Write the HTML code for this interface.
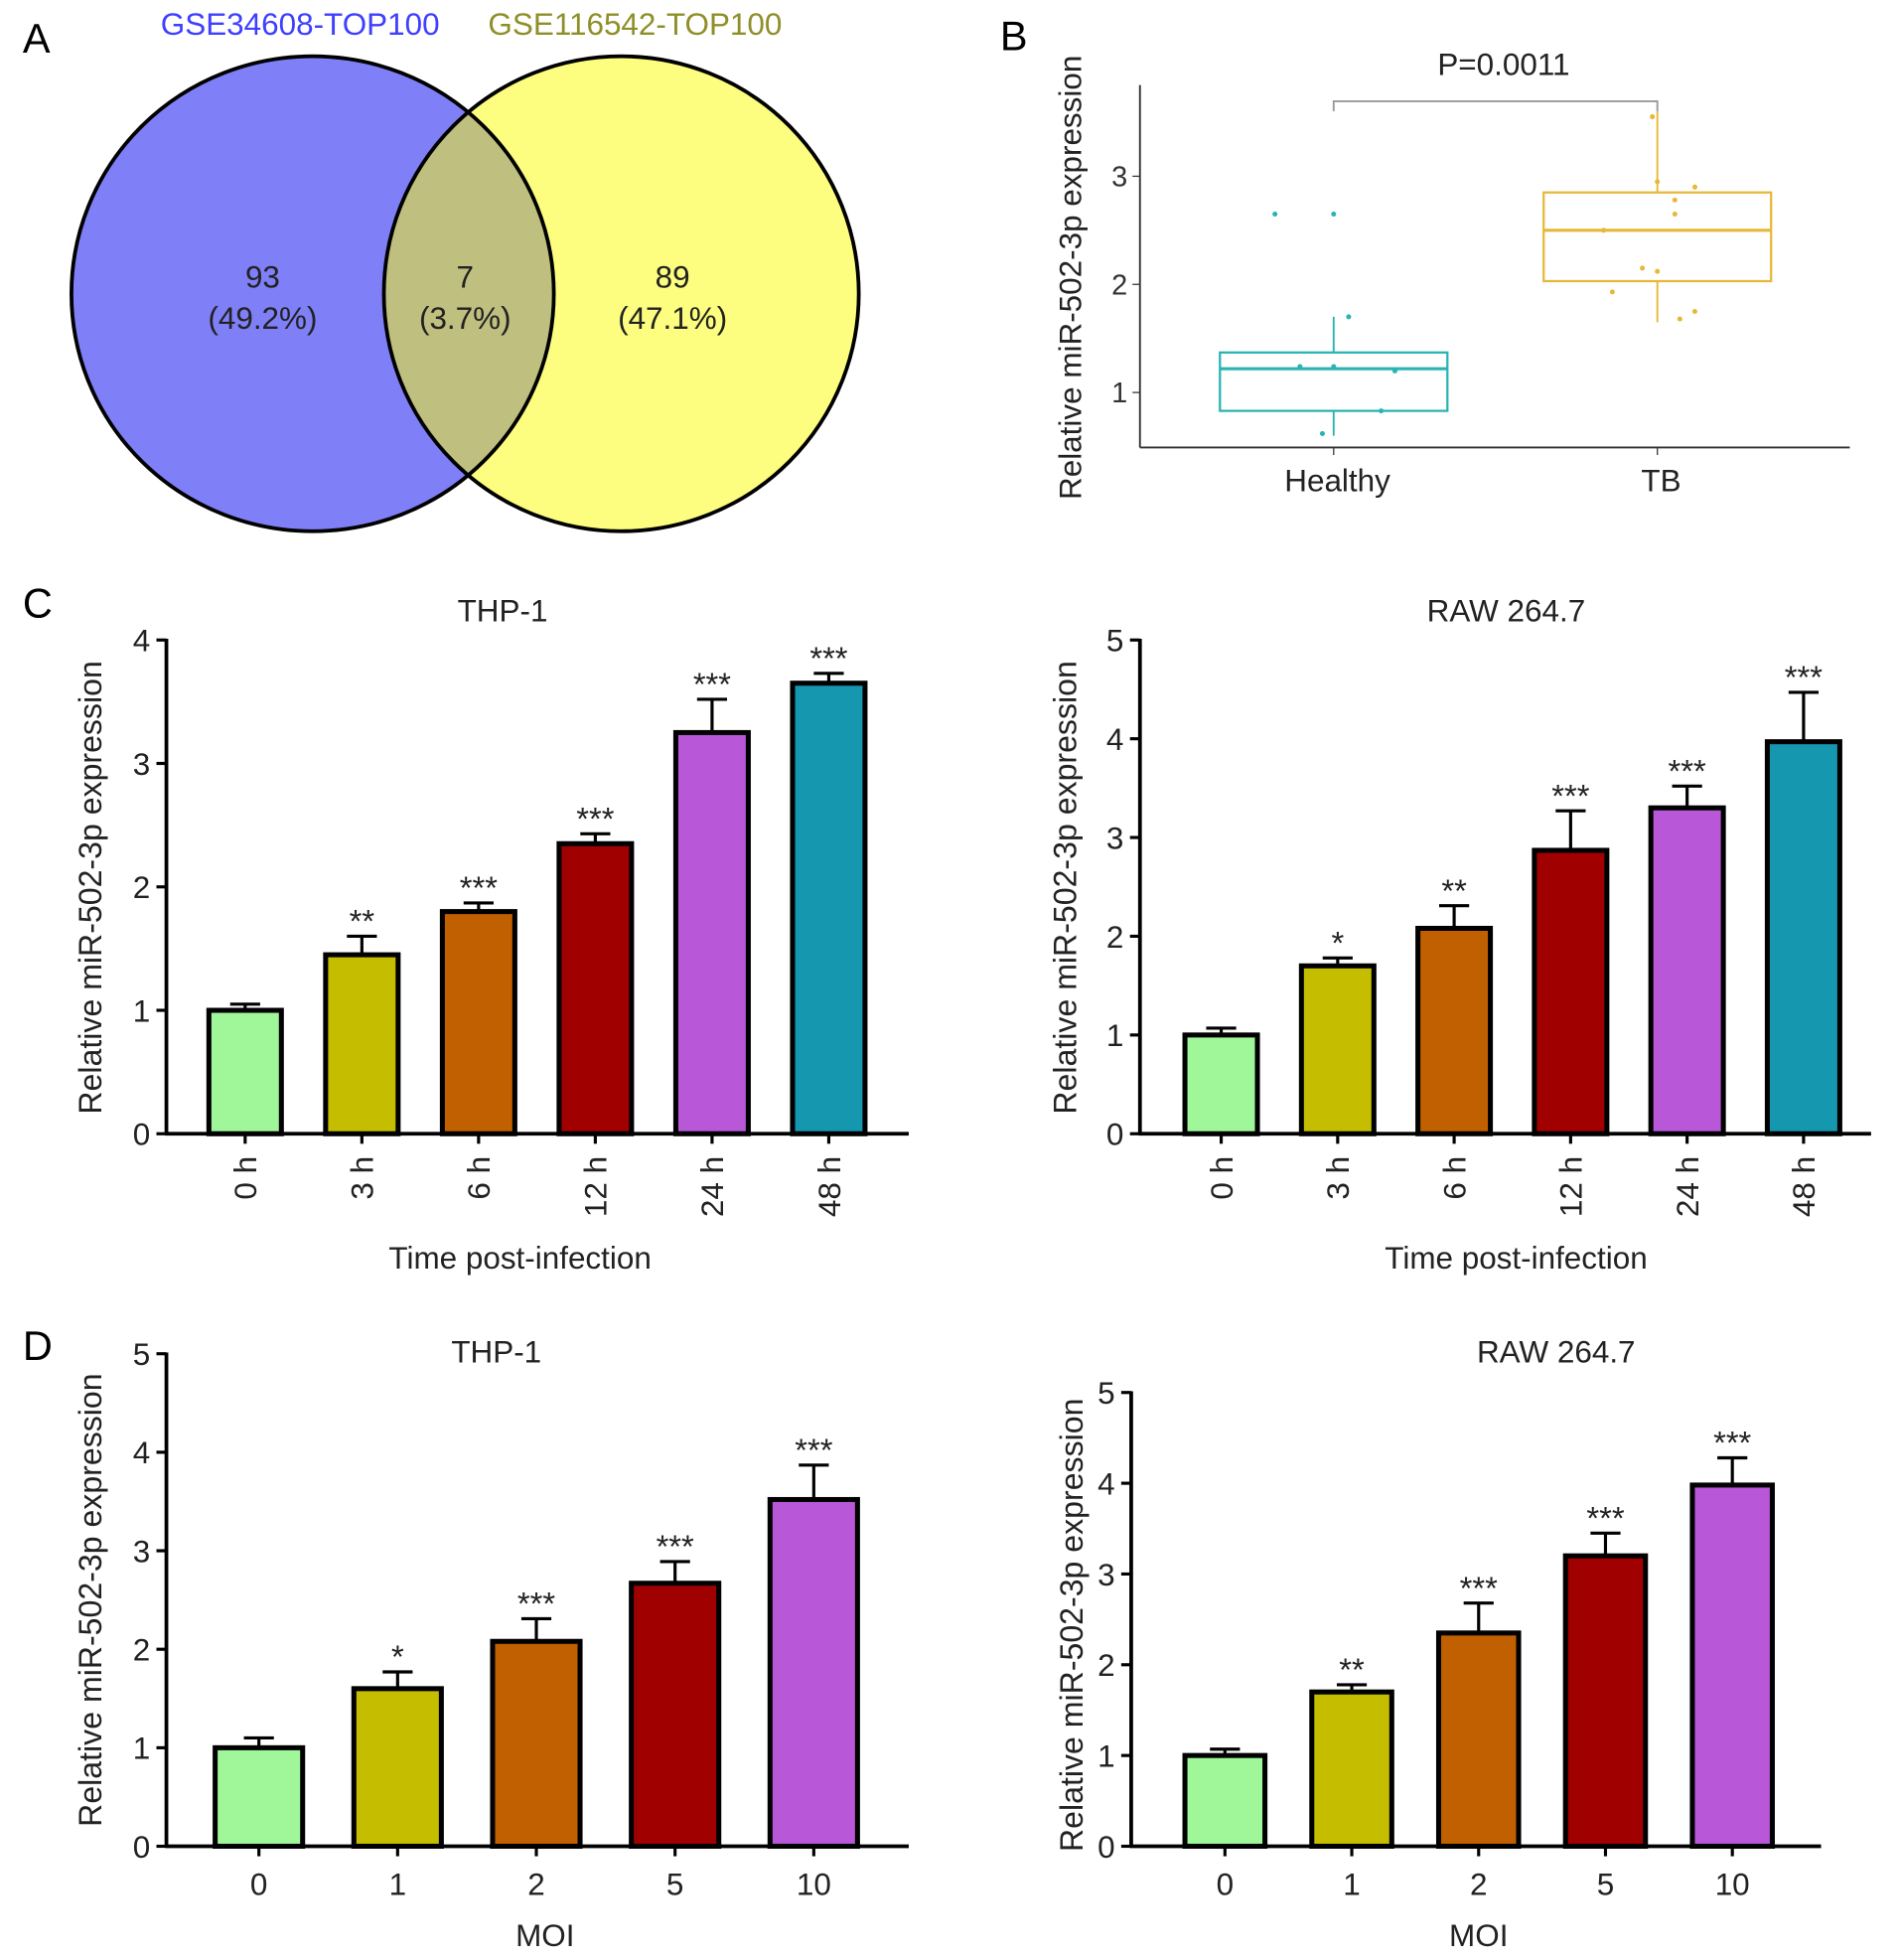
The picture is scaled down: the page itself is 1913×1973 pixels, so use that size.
<!DOCTYPE html>
<html><head><meta charset="utf-8"><style>
html,body{margin:0;padding:0;background:#fff}
svg{display:block;font-family:"Liberation Sans",sans-serif}
</style></head><body>
<svg id="fig" width="1913" height="1973" viewBox="0 0 1520 1568" xmlns="http://www.w3.org/2000/svg">
<g>
<text x="18" y="42" font-size="33">A</text>
<text x="240" y="28" font-size="25" fill="#3f3fff" text-anchor="middle">GSE34608-TOP100</text>
<text x="508" y="28" font-size="25" fill="#8f8f2a" text-anchor="middle">GSE116542-TOP100</text>
<ellipse cx="250" cy="235" rx="193" ry="190" fill="#7f7ff8"/>
<ellipse cx="497" cy="235" rx="190" ry="190" fill="#fdfd7f"/>
<clipPath id="c1"><ellipse cx="250" cy="235" rx="193" ry="190"/></clipPath>
<ellipse cx="497" cy="235" rx="190" ry="190" fill="#bfbf80" clip-path="url(#c1)"/>
<ellipse cx="250" cy="235" rx="193" ry="190" fill="none" stroke="#000" stroke-width="3"/>
<ellipse cx="497" cy="235" rx="190" ry="190" fill="none" stroke="#000" stroke-width="3"/>
<g font-size="25" text-anchor="middle" fill="#222">
<text x="210" y="230">93</text><text x="210" y="263">(49.2%)</text>
<text x="372" y="230">7</text><text x="372" y="263">(3.7%)</text>
<text x="538" y="230">89</text><text x="538" y="263">(47.1%)</text>
</g>
</g>
<g id="pb"></g>
<g id="cl"></g>
<g id="cr"></g>
<g id="dl"></g>
<g id="dr"></g>
</svg>
<script>
const NS="http://www.w3.org/2000/svg";
// Panel B data
const bGroups=["Healthy","TB"];
const bQ1=[0.83,2.03], bMed=[1.22,2.5], bQ3=[1.37,2.85], bMin=[0.6,1.65], bMax=[1.7,3.6];
const bTicks=[1,2,3];
const bHealthyPts=[2.65,2.65,1.7,1.24,1.24,1.2,0.83,0.62];
const bHealthyJit=[-47,0,12,-27,0,49,38,-9];
const bTbPts=[3.55,2.95,2.9,2.78,2.65,2.5,2.15,2.12,1.93,1.75,1.68];
const bTbJit=[-4,0,30,14,14,-43,-12,0,-36,30,18];
// Panel C/D data
const colors=["#a0f79a","#c4bd00","#c06000","#a00000","#b857d8","#1597b0"];
const cCats=["0 h","3 h","6 h","12 h","24 h","48 h"];
const cThpVals=[1.0,1.45,1.8,2.35,3.25,3.65];
const cThpErr=[0.05,0.15,0.07,0.08,0.27,0.08];
const cThpSig=["","**","***","***","***","***"];
const cRawVals=[1.0,1.7,2.08,2.87,3.3,3.97];
const cRawErr=[0.07,0.08,0.23,0.4,0.22,0.5];
const cRawSig=["","*","**","***","***","***"];
const dCats=["0","1","2","5","10"];
const dThpVals=[1.0,1.6,2.08,2.67,3.52];
const dThpErr=[0.1,0.17,0.23,0.22,0.35];
const dThpSig=["","*","***","***","***"];
const dRawVals=[1.0,1.7,2.35,3.2,3.98];
const dRawErr=[0.07,0.08,0.33,0.25,0.3];
const dRawSig=["","**","***","***","***"];

function mk(parent,tag,attrs,text){const e=document.createElementNS(NS,tag);for(const k in attrs)e.setAttribute(k,attrs[k]);if(text!==undefined)e.textContent=text;parent.appendChild(e);return e;}

// Panel B
(function(){
 const g=document.getElementById('pb');
 const y=v=>314-(v-1)*86.5;
 const xs=[1067,1326], cols=["#2ab3b3","#e6b83a"];
 let t=mk(g,'text',{x:800,y:40,'font-size':33});t.textContent="B";
 
 
 mk(g,'line',{x1:912,y1:68,x2:912,y2:358,stroke:'#333','stroke-width':1.5});
 mk(g,'line',{x1:912,y1:358,x2:1480,y2:358,stroke:'#333','stroke-width':1.5});
 bTicks.forEach(v=>{mk(g,'line',{x1:906,y1:y(v),x2:912,y2:y(v),stroke:'#333'});
  const tt=mk(g,'text',{x:902,y:y(v)+8,'font-size':23,'text-anchor':'end',fill:'#333'},v);
  
  });
 const yt=mk(g,'text',{transform:'translate(865,222) rotate(-90)','font-size':25,'text-anchor':'middle',fill:'#222'},"Relative miR-502-3p expression");
 
 
 bGroups.forEach((n,i)=>{const x=xs[i],c=cols[i];
  mk(g,'line',{x1:x,y1:358,x2:x,y2:364,stroke:'#333'});
  const l=mk(g,'text',{x:x+3,y:393,'font-size':25,'text-anchor':'middle',fill:'#222'},n);
  
  
  mk(g,'line',{x1:x,y1:y(bMin[i]),x2:x,y2:y(bMax[i]),stroke:c,'stroke-width':1.5});
  const b=mk(g,'rect',{x:x-91,y:y(bQ3[i]),width:182,height:y(bQ1[i])-y(bQ3[i]),fill:'#fff',stroke:c,'stroke-width':1.8});
  
  
  mk(g,'line',{x1:x-91,y1:y(bMed[i]),x2:x+91,y2:y(bMed[i]),stroke:c,'stroke-width':2.5});
 });
 [[bHealthyPts,bHealthyJit,0],[bTbPts,bTbJit,1]].forEach(([p,j,i])=>p.forEach((v,k)=>{
  const d=mk(g,'circle',{cx:xs[i]+j[k],cy:y(v),r:2,fill:cols[i]});
  
  }));
 mk(g,'path',{d:`M${xs[0]} 89V81H${xs[1]}V89`,fill:'none',stroke:'#999','stroke-width':1.5});
 const p=mk(g,'text',{x:1203,y:60,'font-size':25,'text-anchor':'middle',fill:'#222'},"P=0.0011");
 
 
})();

function barChart(id,o){
 const g=document.getElementById(id);
 const y=v=>o.y0-v*o.unit;
 if(o.label){const L=mk(g,'text',{x:o.lx,y:o.ly,'font-size':33},o.label);
  
  }
 const T=mk(g,'text',{x:o.tx,y:o.ty,'font-size':25,'text-anchor':'middle',fill:'#222'},o.title);
 
 
 mk(g,'line',{x1:o.ax,y1:y(o.ymax)-1,x2:o.ax,y2:o.y0,stroke:'#000','stroke-width':3});
 mk(g,'line',{x1:o.ax-1,y1:o.y0,x2:o.axEnd,y2:o.y0,stroke:'#000','stroke-width':3});
 for(let v=0;v<=o.ymax;v++){mk(g,'line',{x1:o.ax-8,y1:y(v),x2:o.ax,y2:y(v),stroke:'#000','stroke-width':2.5});
  const tl=mk(g,'text',{x:o.ax-13,y:y(v)+9,'font-size':25,'text-anchor':'end',fill:'#222'},v);
  
  }
 const yt=mk(g,'text',{transform:`translate(${o.ytx},${o.yty}) rotate(-90)`,'font-size':25.5,'text-anchor':'middle',fill:'#222'},"Relative miR-502-3p expression");
 
 
 const xt=mk(g,'text',{x:o.xtx,y:o.xty,'font-size':25,'text-anchor':'middle',fill:'#222'},o.xtitle);
 
 
 o.cats.forEach((c,i)=>{const cx=o.x0+i*o.step,v=o.vals[i],e=o.err[i],hw=o.bw/2;
  mk(g,'line',{x1:cx,y1:o.y0,x2:cx,y2:o.y0+8,stroke:'#000','stroke-width':2.5});
  let lab;
  if(o.rot) lab=mk(g,'text',{transform:`translate(${cx+9},${o.y0+18}) rotate(-90)`,'font-size':25,'text-anchor':'end',fill:'#222'},c);
  else lab=mk(g,'text',{x:cx,y:o.y0+39,'font-size':25,'text-anchor':'middle',fill:'#222'},c);
  
  
  mk(g,'line',{x1:cx,y1:y(v),x2:cx,y2:y(v+e),stroke:'#000','stroke-width':2.5});
  mk(g,'line',{x1:cx-12,y1:y(v+e),x2:cx+12,y2:y(v+e),stroke:'#000','stroke-width':2.5});
  const r=mk(g,'rect',{x:cx-hw,y:y(v),width:o.bw,height:o.y0-y(v),fill:colors[i],stroke:'#000','stroke-width':4});
  
  
  if(o.sig[i]){const s=mk(g,'text',{x:cx,y:y(v+e)-3,'font-size':26,'text-anchor':'middle',fill:'#222'},o.sig[i]);
   
   }
 });
}
barChart('cl',{label:'C',lx:18,ly:494,title:'THP-1',tx:402,ty:497,ax:133,axEnd:727,y0:907,unit:98.75,ymax:4,x0:196,step:93.4,bw:58,cats:cCats,vals:cThpVals,err:cThpErr,sig:cThpSig,rot:true,ytx:81,yty:710,xtitle:'Time post-infection',xtx:416,xty:1015});
barChart('cr',{title:'RAW 264.7',tx:1205,ty:497,ax:912,axEnd:1497,y0:907,unit:79,ymax:5,x0:977,step:93.2,bw:58,cats:cCats,vals:cRawVals,err:cRawErr,sig:cRawSig,rot:true,ytx:861,yty:710,xtitle:'Time post-infection',xtx:1213,xty:1015});
barChart('dl',{label:'D',lx:18,ly:1088,title:'THP-1',tx:397,ty:1090,ax:133,axEnd:727,y0:1477,unit:78.8,ymax:5,x0:207,step:111,bw:70,cats:dCats,vals:dThpVals,err:dThpErr,sig:dThpSig,rot:false,ytx:81,yty:1280,xtitle:'MOI',xtx:436,xty:1557});
barChart('dr',{title:'RAW 264.7',tx:1245,ty:1090,ax:905,axEnd:1457,y0:1477,unit:72.6,ymax:5,x0:980,step:101.5,bw:64,cats:dCats,vals:dRawVals,err:dRawErr,sig:dRawSig,rot:false,ytx:866,yty:1300,xtitle:'MOI',xtx:1183,xty:1557});
</script>
</body></html>
